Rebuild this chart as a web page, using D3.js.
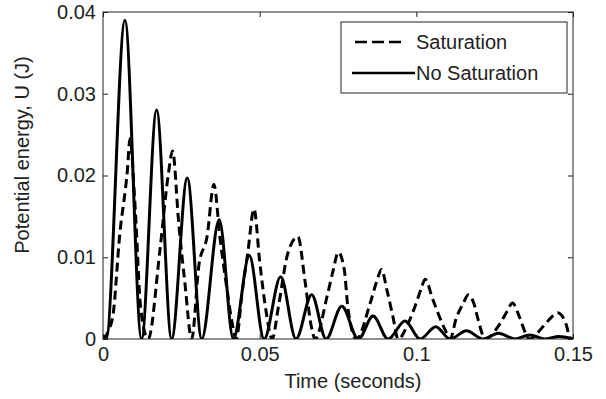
<!DOCTYPE html>
<html>
<head>
<meta charset="utf-8">
<script src="https://cdn.jsdelivr.net/npm/d3@7"></script>
<style>
  body { margin: 0; background: #fff; }
  text { font-family: "Liberation Sans", Arial, sans-serif; fill: #222; }
</style>
</head>
<body>
<div id="chart"></div>
<script>
// values (time in s, energy in J)
var satTime = [0, 0.0030, 0.0054, 0.0078, 0.0086, 0.0102, 0.0121, 0.0144,
  0.0182, 0.0208, 0.0222, 0.0242, 0.0261, 0.0283,
  0.0306, 0.0332, 0.0354, 0.0373, 0.0396, 0.0412, 0.0425,
  0.0445, 0.0462, 0.0482, 0.0500, 0.0520, 0.0540,
  0.0560, 0.0590, 0.0622, 0.0645, 0.0665, 0.0677,
  0.0715, 0.0734, 0.0751, 0.0770, 0.0782, 0.0809,
  0.0852, 0.0874, 0.0889, 0.0906, 0.0925, 0.0942,
  0.0975, 0.0996, 0.1015, 0.1028, 0.1053, 0.1091, 0.1108,
  0.1127, 0.1149, 0.1166, 0.1184, 0.1197, 0.1220,
  0.1264, 0.1290, 0.1307, 0.1328, 0.1350, 0.1360,
  0.1404, 0.1427, 0.1451, 0.1478, 0.1490, 0.1500];
var satEnergy = [0, 0.0025, 0.0130, 0.0207, 0.0245, 0.0165, 0.0035, 0,
  0.0110, 0.0200, 0.0230, 0.0140, 0.0070, 0,
  0.0090, 0.0125, 0.0189, 0.0125, 0.0060, 0.0020, 0,
  0.0060, 0.0105, 0.0159, 0.0095, 0.0035, 0,
  0.0040, 0.0105, 0.0125, 0.0070, 0.0015, 0,
  0.0052, 0.0083, 0.0106, 0.0085, 0.0037, 0,
  0.0043, 0.0071, 0.0085, 0.0060, 0.0028, 0,
  0.0020, 0.0040, 0.0061, 0.0073, 0.0048, 0.0012, 0,
  0.0025, 0.0043, 0.0054, 0.0043, 0.0024, 0,
  0.0017, 0.0034, 0.0044, 0.0028, 0.0006, 0,
  0.0015, 0.0025, 0.0032, 0.0018, 0.0002, 0];

var noSatTime = [0, 0.0010, 0.0070, 0.0123, 0.0171, 0.0219, 0.0269, 0.0315,
  0.0371, 0.0416, 0.0467, 0.0514, 0.0567, 0.0616, 0.0666, 0.0712,
  0.0762, 0.0815, 0.0862, 0.0910, 0.0964, 0.1012, 0.1062, 0.1108,
  0.1160, 0.1213, 0.1262, 0.1315, 0.1362, 0.1410, 0.1455, 0.1500];
var noSatEnergy = [0, 0, 0.0390, 0, 0.0280, 0, 0.0197, 0,
  0.0146, 0, 0.0102, 0, 0.0076, 0, 0.0054, 0,
  0.0040, 0, 0.0028, 0, 0.0022, 0, 0.0015, 0,
  0.0010, 0, 0.0007, 0, 0.0005, 0, 0.0003, 0];

var xTicks = [0, 0.05, 0.1, 0.15];
var yTicks = [0, 0.01, 0.02, 0.03, 0.04];
var seriesNames = ["Saturation", "No Saturation"];

var svgWidth = 606;
var svgHeight = 399;

var margin = { top: 12, right: 33, bottom: 60, left: 103 };
var width = svgWidth - margin.left - margin.right;
var height = svgHeight - margin.top - margin.bottom;

var svg = d3.select("#chart")
  .append("svg")
  .attr("width", svgWidth)
  .attr("height", svgHeight);

var chartGroup = svg.append("g")
  .attr("transform", `translate(${margin.left}, ${margin.top})`);

var xScale = d3.scaleLinear().domain([0, 0.15]).range([0, width]);
var yScale = d3.scaleLinear().domain([0, 0.04]).range([height, 0]);

var fmt = d => d === 0 ? "0" : String(d);

// axes, ticks pointing inward (matlab style)
var bottomAxis = d3.axisBottom(xScale).tickValues(xTicks).tickFormat(fmt)
  .tickSize(-5).tickPadding(8);
var leftAxis = d3.axisLeft(yScale).tickValues(yTicks).tickFormat(fmt)
  .tickSize(-5).tickPadding(7);
var topAxis = d3.axisTop(xScale).tickValues(xTicks).tickFormat("").tickSize(-5);
var rightAxis = d3.axisRight(yScale).tickValues(yTicks).tickFormat("").tickSize(-5);

function styleAxis(g) {
  g.select(".domain").remove();
  g.selectAll("line").attr("stroke", "#222");
  g.selectAll("text").style("font-size", "20px").attr("fill", "#222");
}

chartGroup.append("g").attr("transform", `translate(0, ${height})`).call(bottomAxis).call(styleAxis);
chartGroup.append("g").call(leftAxis).call(styleAxis);
chartGroup.append("g").call(topAxis).call(styleAxis);
chartGroup.append("g").attr("transform", `translate(${width}, 0)`).call(rightAxis).call(styleAxis);

// clip the curves to the plot box
chartGroup.append("clipPath").attr("id", "clip")
  .append("rect").attr("width", width).attr("height", height);

var line = d3.line()
  .x(d => xScale(d[0]))
  .y(d => yScale(d[1]))
  .curve(d3.curveMonotoneX);

var satData = satTime.map((t, i) => [t, satEnergy[i]]);
var noSatData = noSatTime.map((t, i) => [t, noSatEnergy[i]]);

chartGroup.append("path")
  .datum(noSatData)
  .attr("clip-path", "url(#clip)")
  .attr("d", line)
  .attr("fill", "none")
  .attr("stroke", "#000")
  .attr("stroke-width", 3);

chartGroup.append("path")
  .datum(satData)
  .attr("clip-path", "url(#clip)")
  .attr("d", line)
  .attr("fill", "none")
  .attr("stroke", "#000")
  .attr("stroke-width", 3)
  .attr("stroke-dasharray", "9,5");

// box
chartGroup.append("rect")
  .attr("width", width)
  .attr("height", height)
  .attr("fill", "none")
  .attr("stroke", "#222")
  .attr("stroke-width", 1);

// legend
var legend = svg.append("g").attr("transform", "translate(341, 22)");
legend.append("rect")
  .attr("width", 226).attr("height", 71)
  .attr("fill", "#fff").attr("stroke", "#222");
legend.append("line")
  .attr("x1", 14).attr("x2", 64).attr("y1", 20).attr("y2", 20)
  .attr("stroke", "#000").attr("stroke-width", 2.5).attr("stroke-dasharray", "12,5");
legend.append("line")
  .attr("x1", 11).attr("x2", 74).attr("y1", 51).attr("y2", 51)
  .attr("stroke", "#000").attr("stroke-width", 2.5);
legend.selectAll("text.lab")
  .data(seriesNames)
  .enter().append("text")
  .attr("x", 75)
  .attr("y", (d, i) => 20 + i * 31)
  .attr("dy", "0.35em")
  .style("font-size", "20px")
  .text(d => d);

// axis labels
svg.append("text")
  .attr("transform", "translate(22, 155) rotate(-90)")
  .attr("text-anchor", "middle")
  .attr("dy", "0.35em")
  .style("font-size", "20px")
  .text("Potential energy, U (J)");

svg.append("text")
  .attr("x", 353)
  .attr("y", 388)
  .attr("text-anchor", "middle")
  .style("font-size", "20px")
  .text("Time (seconds)");
</script>
</body>
</html>
